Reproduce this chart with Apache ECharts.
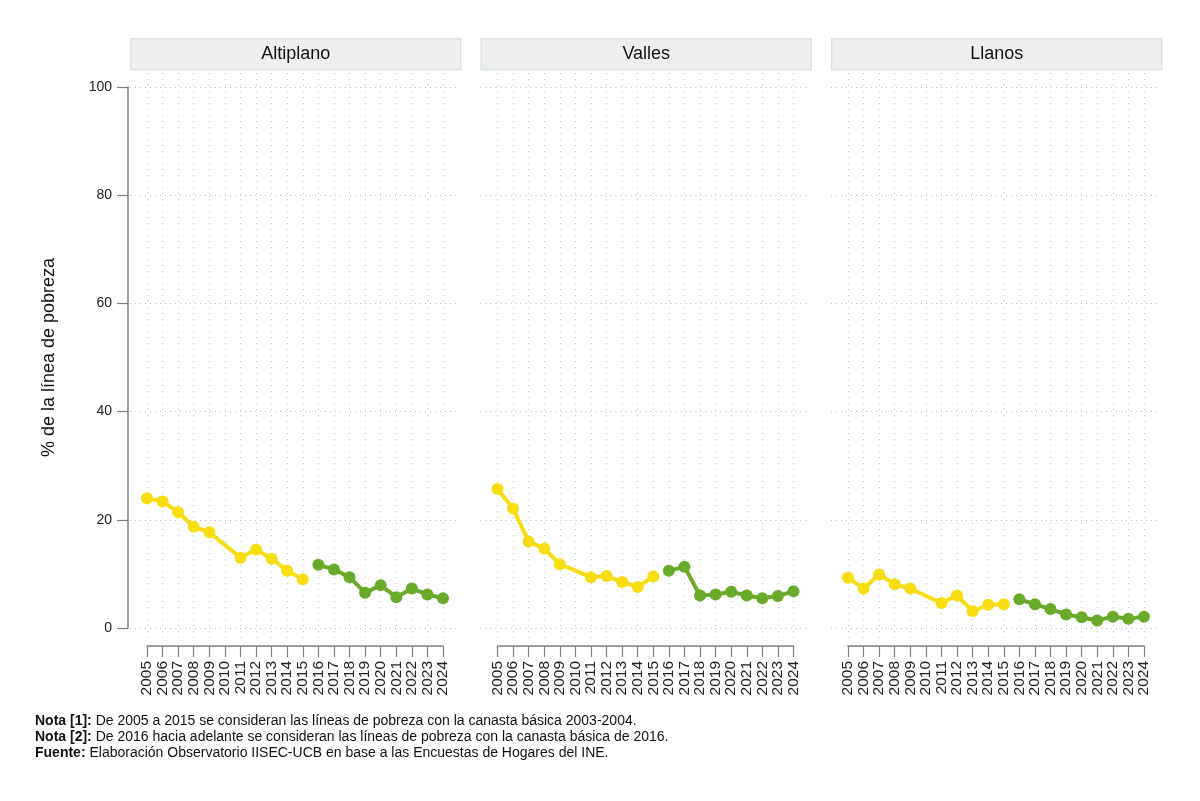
<!DOCTYPE html>
<html>
<head>
<meta charset="utf-8">
<script src="https://cdn.jsdelivr.net/npm/echarts@6/dist/echarts.min.js"></script>
<style>
html,body{margin:0;padding:0;background:#fff;}
#chart{width:1200px;height:801px;}
</style>
</head>
<body>
<div id="chart"></div>
<script>
// ---- Data ----
const years = ['2005','2006','2007','2008','2009','2010','2011','2012','2013','2014','2015',
               '2016','2017','2018','2019','2020','2021','2022','2023','2024'];
const regions = ['Altiplano', 'Valles', 'Llanos'];
const yearsCanasta2004 = ['2005','2006','2007','2008','2009','2010','2011','2012','2013','2014','2015'];
const yearsCanasta2016 = ['2016','2017','2018','2019','2020','2021','2022','2023','2024'];
// Canasta básica 2003-2004 (2010 sin dato)
const altiplano2004 = [24.0, 23.4, 21.4, 18.7, 17.7, null, 13.0, 14.5, 12.8, 10.6, 9.0];
const valles2004    = [25.7, 22.1, 16.0, 14.7, 11.8, null, 9.4, 9.6, 8.5, 7.6, 9.5];
const llanos2004    = [9.3, 7.3, 9.9, 8.1, 7.3, null, 4.6, 6.0, 3.1, 4.3, 4.4];
// Canasta básica 2016
const altiplano2016 = [11.7, 10.8, 9.4, 6.5, 7.9, 5.7, 7.3, 6.2, 5.5];
const valles2016    = [10.6, 11.3, 6.0, 6.2, 6.7, 6.0, 5.5, 5.9, 6.8];
const llanos2016    = [5.3, 4.4, 3.5, 2.5, 2.0, 1.4, 2.1, 1.7, 2.1];
const yTicks = [0, 20, 40, 60, 80, 100];

const values2004 = [altiplano2004, valles2004, llanos2004];
const values2016 = [altiplano2016, valles2016, llanos2016];

const YELLOW = '#F8DD12';
const GREEN = '#6AAA2A';
const FONT = '"Liberation Sans Narrow", "Liberation Sans", Arial, sans-serif';

const chart = echarts.init(document.getElementById('chart'), null, {renderer: 'canvas'});

const grids = [], xAxes = [], yAxes = [], series = [], graphics = [];
const plotTop = 87, plotH = 541, plotW = 296;

regions.forEach((name, i) => {
  const px = 147 + i * 350.5;
  grids.push({left: px, top: plotTop, width: plotW, height: plotH});
  grids.push({left: px, top: 73, width: plotW, height: 567});
  grids.push({left: px - 17, top: plotTop, width: 330, height: plotH});
  const g = i * 3;

  xAxes.push({
    gridIndex: g, type: 'category', data: years, boundaryGap: false, offset: 18,
    axisLine: {show: true, onZero: false, lineStyle: {color: '#808080', width: 1.5}},
    axisTick: {show: true, interval: 0, length: 11, lineStyle: {color: '#808080', width: 1.2}},
    axisLabel: {interval: 0, rotate: 90, fontSize: 15.5, color: '#222', fontFamily: FONT, margin: 15},
    splitLine: {show: false}
  });
  xAxes.push({
    gridIndex: g + 1, type: 'category', data: years, boundaryGap: false,
    axisLine: {show: false}, axisTick: {show: false}, axisLabel: {show: false},
    splitLine: {show: true, interval: 0, lineStyle: {color: '#c8c8c8', type: [1, 5], width: 1}}
  });
  xAxes.push({
    gridIndex: g + 2, type: 'value', min: 0, max: 1, show: false, splitLine: {show: false}
  });

  yAxes.push({
    gridIndex: g, type: 'value', min: 0, max: 100, interval: 20,
    show: i === 0, offset: 19,
    name: i === 0 ? '% de la línea de pobreza' : '',
    nameLocation: 'middle', nameGap: 70, nameRotate: 90,
    nameTextStyle: {fontSize: 18, color: '#111', fontFamily: FONT},
    axisLine: {show: true, onZero: false, lineStyle: {color: '#808080', width: 1.5}},
    axisTick: {show: true, length: 11, lineStyle: {color: '#808080', width: 1.2}},
    axisLabel: {fontSize: 14, color: '#222', fontFamily: FONT, margin: 16},
    splitLine: {show: false}
  });
  yAxes.push({gridIndex: g + 1, type: 'value', min: 0, max: 1, show: false, splitLine: {show: false}});
  yAxes.push({
    gridIndex: g + 2, type: 'value', min: 0, max: 100, interval: 20,
    axisLine: {show: false}, axisTick: {show: false}, axisLabel: {show: false},
    splitLine: {show: true, lineStyle: {color: '#b8b8b8', type: [1, 4], width: 1}}
  });

  series.push({
    type: 'line', xAxisIndex: g, yAxisIndex: g, connectNulls: true,
    data: yearsCanasta2004.map((y, k) => [y, values2004[i][k]]),
    lineStyle: {color: YELLOW, width: 4}, itemStyle: {color: YELLOW},
    symbol: 'circle', symbolSize: 12, showSymbol: true, showAllSymbol: true, z: 5, animation: false
  });
  series.push({
    type: 'line', xAxisIndex: g, yAxisIndex: g, connectNulls: true,
    data: yearsCanasta2016.map((y, k) => [y, values2016[i][k]]),
    lineStyle: {color: GREEN, width: 4}, itemStyle: {color: GREEN},
    symbol: 'circle', symbolSize: 12, showSymbol: true, showAllSymbol: true, z: 5, animation: false
  });

  graphics.push({
    type: 'group', left: px - 17, top: 38,
    children: [
      {type: 'rect', shape: {x: 0, y: 0, width: 330, height: 31},
       style: {fill: '#EEEEEE', stroke: '#D8E2E8', lineWidth: 1.5}},
      {type: 'text', x: 165, y: 15.5,
       style: {text: name, fill: '#111', font: '18px ' + FONT, align: 'center', verticalAlign: 'middle'}}
    ]
  });
});

const notes = [
  ['Nota [1]:', ' De 2005 a 2015 se consideran las líneas de pobreza con la canasta básica 2003-2004.'],
  ['Nota [2]:', ' De 2016 hacia adelante se consideran las líneas de pobreza con la canasta básica de 2016.'],
  ['Fuente:', ' Elaboración Observatorio IISEC-UCB en base a las Encuestas de Hogares del INE.']
];
notes.forEach((n, k) => {
  graphics.push({
    type: 'text', left: 35, top: 714 + k * 16,
    style: {
      text: '{b|' + n[0] + '}{r|' + n[1] + '}',
      rich: {
        b: {fontWeight: 'bold', fontSize: 14, fill: '#111', fontFamily: FONT},
        r: {fontSize: 14, fill: '#111', fontFamily: FONT}
      }
    }
  });
});

chart.setOption({
  backgroundColor: '#ffffff',
  animation: false,
  grid: grids,
  xAxis: xAxes,
  yAxis: yAxes,
  series: series,
  graphic: graphics
});
</script>
</body>
</html>
